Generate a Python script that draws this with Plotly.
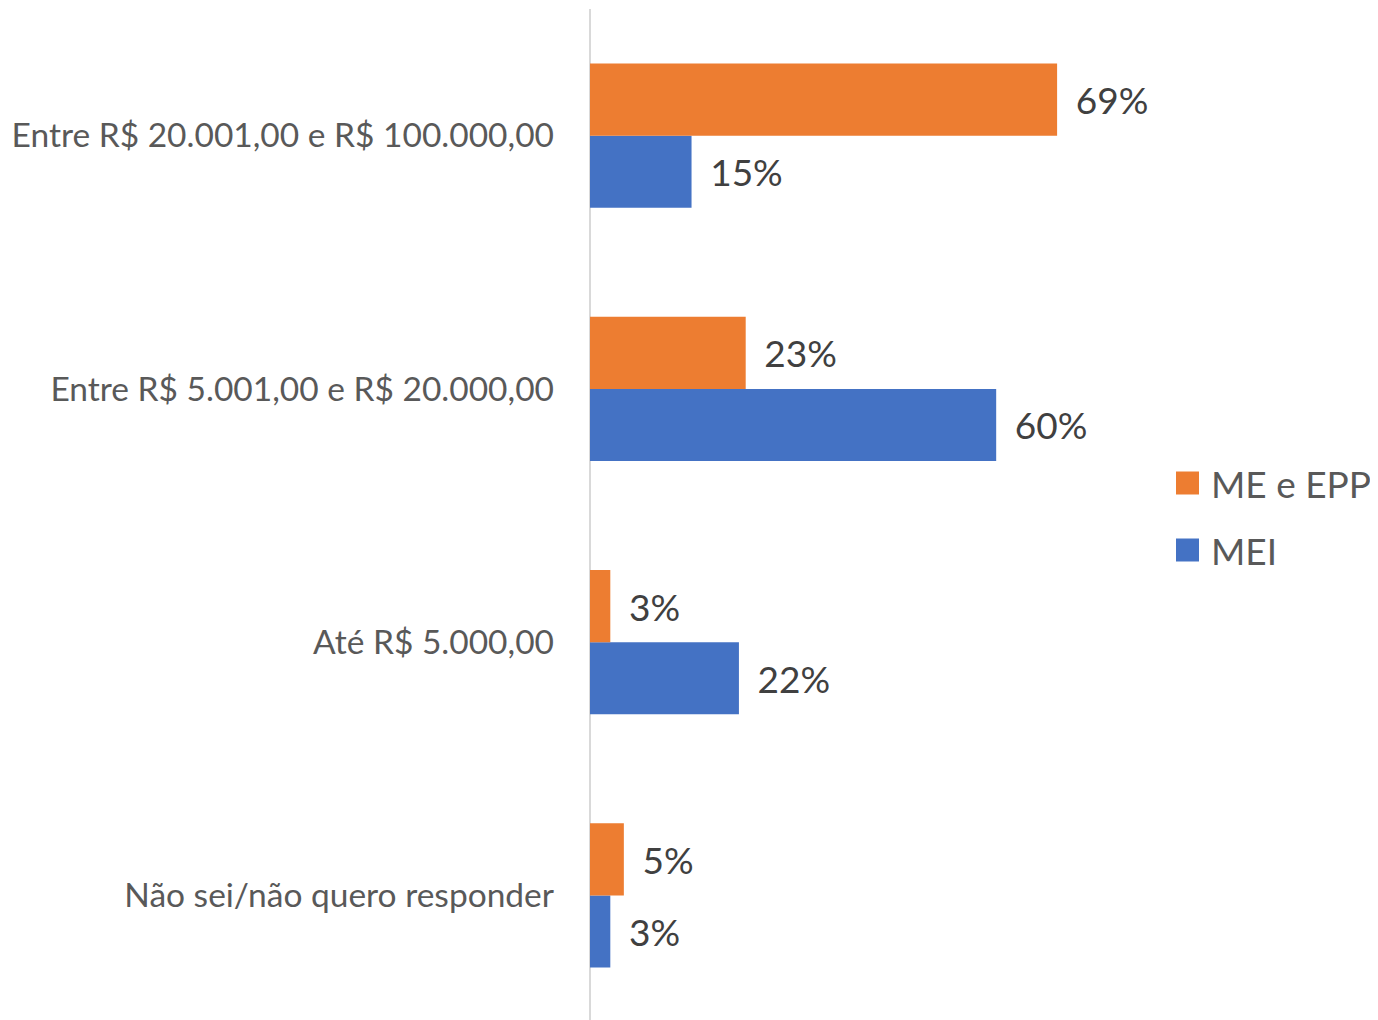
import plotly.graph_objects as go

categories = ["Não sei/não quero responder", "Até R$ 5.000,00",
              "Entre R$ 5.001,00 e R$ 20.000,00", "Entre R$ 20.001,00 e R$ 100.000,00"]
mei = [3, 22, 60, 15]
me_epp = [5, 3, 23, 69]
series_names = ["ME e EPP", "MEI"]
series_colors = ["#ED7D31", "#4472C4"]

FONT = "Lato, Open Sans, sans-serif"
PAD = "\u00a0\u2006"

fig = go.Figure()
fig.add_trace(go.Bar(
    y=categories, x=mei, orientation="h", name=series_names[1],
    marker=dict(color=series_colors[1], line=dict(width=0)),
    text=[f"{PAD}{v}%" for v in mei], textposition="outside",
    textfont=dict(size=37, color="#404040", family=FONT),
    cliponaxis=False, constraintext="none",
))
fig.add_trace(go.Bar(
    y=categories, x=me_epp, orientation="h", name=series_names[0],
    marker=dict(color=series_colors[0], line=dict(width=0)),
    text=[f"{PAD}{v}%" for v in me_epp], textposition="outside",
    textfont=dict(size=37, color="#404040", family=FONT),
    cliponaxis=False, constraintext="none",
))

# manual legend (larger swatches like the original)
L, W = 582, 570
T, PH = 1, 1013
legend_centers_px = [483, 550]
for name, color, cy in zip(series_names, series_colors, legend_centers_px):
    y_paper = 1 - (cy - 8 - T) / PH
    x0 = (1176 - 8 - L) / W
    x1 = (1199 - 8 - L) / W
    fig.add_shape(type="rect", xref="paper", yref="paper",
                  x0=x0, x1=x1, y0=y_paper - 11.5 / PH, y1=y_paper + 11.5 / PH,
                  fillcolor=color, line=dict(width=0))
    fig.add_annotation(xref="paper", yref="paper", x=(1209 - 8 - L) / W, y=y_paper,
                       xanchor="left", yanchor="middle", showarrow=False,
                       text=name, font=dict(size=37, color="#595959", family=FONT))

fig.update_layout(
    width=1378, height=1020,
    paper_bgcolor="white", plot_bgcolor="white",
    barmode="group", bargap=0.43, bargroupgap=0,
    margin=dict(l=L, r=1378 - L - W, t=T, b=1020 - T - PH),
    font=dict(family=FONT, color="#595959"),
    showlegend=False,
)
fig.update_xaxes(
    range=[0, 84.2], showticklabels=False, showgrid=False,
    zeroline=True, zerolinecolor="#D9D9D9", zerolinewidth=2,
    showline=False, fixedrange=True,
)
fig.update_yaxes(
    range=[-0.5, 3.5], showgrid=False, zeroline=False, showline=False,
    tickfont=dict(size=33.5, color="#595959", family=FONT),
    ticklabelstandoff=35, ticks="",
)

fig.write_html("out.html")
